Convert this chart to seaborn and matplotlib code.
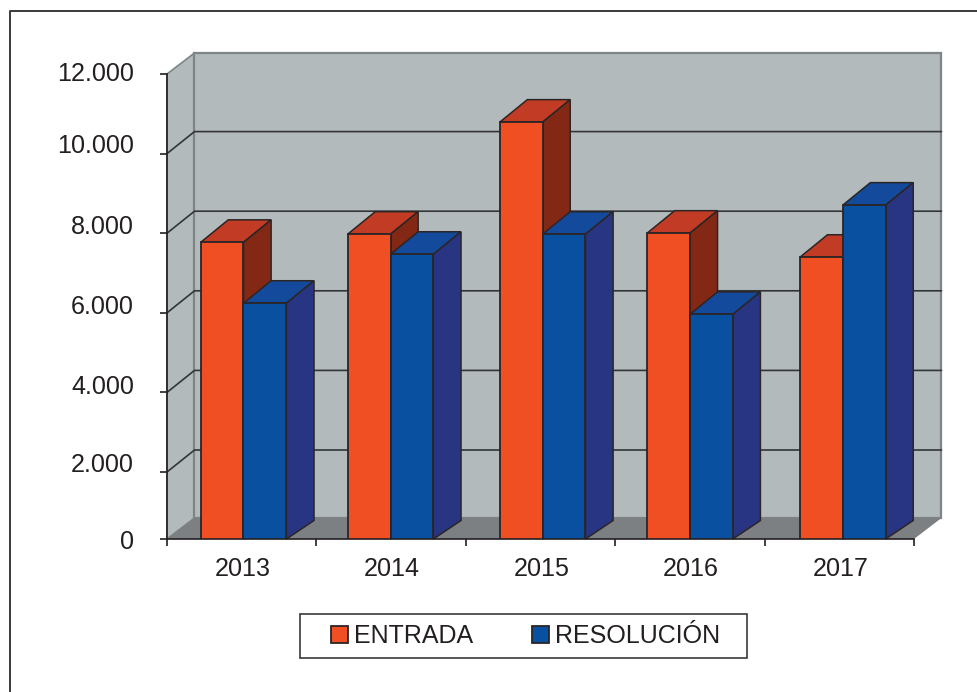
import matplotlib
matplotlib.use("Agg")
import matplotlib.pyplot as plt
from matplotlib.lines import Line2D
from matplotlib.patches import Polygon, Rectangle
import pandas as pd
import seaborn as sns

years = ["2013", "2014", "2015", "2016", "2017"]
series = ["ENTRADA", "RESOLUCIÓN"]
entrada = [7770, 7975, 10790, 8000, 7395]
resolucion = [6240, 7470, 7975, 5960, 8705]

# the printed axis is not linear at the bottom: the "0" tick sits at about 317
y_ticks = [317, 2000, 4000, 6000, 8000, 10000, 12000]
y_labels = ["0", "2.000", "4.000", "6.000", "8.000", "10.000", "12.000"]
y_label_shift = [-3, 7, 5, 6, 6, 8, 0]
bar_shift = [0.012, -0.004, 0.014, 0, 0.023]

W, H = 978, 692
INK = "#231f20"
WALL = "#b3babc"
FLOOR = "#7c8082"
WALL_EDGE = "#7f8486"
FRONT = dict(zip(series, ["#f04e23", "#0a50a1"]))
TOP = dict(zip(series, ["#c23b24", "#134a9c"]))
SIDE = dict(zip(series, ["#832815", "#283583"]))

# depth of the fake 3D box, in data units
WALL_DX, WALL_DY, GRID_DY = 0.184, 528, 553
BAR_DX, BAR_DY, BAR_BASE_DY = 0.185, 566, 465

sns.set_theme(style="white")
plt.rcParams["font.family"] = ["Liberation Sans", "DejaVu Sans"]
plt.rcParams["text.color"] = INK

df = pd.DataFrame({
    "year": years * 2,
    "serie": [series[0]] * 5 + [series[1]] * 5,
    "valor": entrada + resolucion,
})

fig = plt.figure(figsize=(W / 100, H / 100), dpi=100)
ax = fig.add_axes([167 / W, 1 - 539 / H, (914 - 167) / W, (539 - 74) / H])
sns.barplot(data=df, x="year", y="valor", hue="serie", palette=FRONT, width=0.574,
            gap=0, edgecolor="#2b2526", linewidth=1.3, saturation=1, ax=ax, legend=True, zorder=6)
ax.set_xlim(-0.5, 4.5)
ax.set_ylim(y_ticks[0], 12000)
ax.set_xlabel("")
ax.set_ylabel("")
ymin = y_ticks[0]

# walls and floor
ax.add_patch(Polygon([(-0.5, ymin), (-0.5, 12000), (-0.5 + WALL_DX, 12000 + WALL_DY), (-0.5 + WALL_DX, ymin + WALL_DY)],
                     fc=WALL, ec=WALL_EDGE, lw=1.2, clip_on=False, zorder=0.5))
ax.add_patch(Polygon([(-0.5 + WALL_DX, ymin + WALL_DY), (-0.5 + WALL_DX, 12000 + WALL_DY),
                      (4.5 + WALL_DX, 12000 + WALL_DY), (4.5 + WALL_DX, ymin + WALL_DY)],
                     fc=WALL, ec=WALL_EDGE, lw=1.6, clip_on=False, zorder=0.5))
ax.add_patch(Polygon([(-0.5, ymin), (-0.5 + WALL_DX, ymin + WALL_DY), (4.5 + WALL_DX, ymin + WALL_DY), (4.5, ymin)],
                     fc=FLOOR, ec="none", clip_on=False, zorder=0.6))

# gridlines run along the side wall and across the back wall
for t in y_ticks[1:-1]:
    ax.plot([-0.5, -0.5 + WALL_DX, 4.5 + WALL_DX], [t, t + GRID_DY, t + GRID_DY],
            color="#333537", lw=1.2, clip_on=False, zorder=1)

# bars: shift, then add top and side faces
for n, cont in enumerate(ax.containers[:2]):
    name = series[n]
    for i, bar in enumerate(cont.patches):
        bar.set_x(bar.get_x() + bar_shift[i])
        bar.set_zorder(4 + 2 * n)
        x0 = bar.get_x()
        x1 = x0 + bar.get_width()
        top = bar.get_height()
        ax.add_patch(Polygon([(x0, top), (x0 + BAR_DX, top + BAR_DY), (x1 + BAR_DX, top + BAR_DY), (x1, top)],
                             fc=TOP[name], ec="#2b2526", lw=1.1, zorder=3 + 2 * n, clip_on=False))
        ax.add_patch(Polygon([(x1, top), (x1 + BAR_DX, top + BAR_DY), (x1 + BAR_DX, ymin + BAR_BASE_DY), (x1, ymin)],
                             fc=SIDE[name], ec="#2b2526", lw=1.1, zorder=3 + 2 * n, clip_on=False))

# axes and ticks
sns.despine(ax=ax)
for side in ["left", "bottom"]:
    ax.spines[side].set_color(INK)
    ax.spines[side].set_linewidth(1.2)
    ax.spines[side].set_zorder(10)
ax.set_yticks(y_ticks)
ax.set_yticklabels([])
ax.set_xticks([-0.5, 0.5, 1.5, 2.5, 3.5, 4.5])
ax.set_xticklabels([])
ax.tick_params(axis="both", direction="out", length=5, width=1.2, color=INK, left=True, bottom=True)
for t, lab, shift in zip(y_ticks, y_labels, y_label_shift):
    ax.annotate(lab, xy=(0, t), xycoords=ax.get_yaxis_transform(), xytext=(-33, shift),
                textcoords="offset pixels", ha="right", va="center", fontsize=18.1, annotation_clip=False)
for i, y in enumerate(years):
    ax.annotate(y, xy=(i, 0), xycoords=ax.get_xaxis_transform(), xytext=(1, -30),
                textcoords="offset pixels", ha="center", va="center", fontsize=18.1, annotation_clip=False)

# legend and frames, placed in figure pixels
handles, labels = ax.get_legend_handles_labels()
ax.get_legend().remove()
fig.legend(handles, labels, loc="center left", bbox_to_anchor=(331 / W, 1 - 636 / H), ncol=2, frameon=False,
           fontsize=18, handlelength=0.68, handleheight=0.68, handletextpad=0.24, columnspacing=2.34,
           borderpad=0, borderaxespad=0)
fig.add_artist(Rectangle((299.7 / W, 1 - 658.3 / H), 447.5 / W, 44 / H, transform=fig.transFigure,
                         fc="none", ec="#3a3a3a", lw=1.2))
# outer frame: only the left and top edges are visible
fig.add_artist(Line2D([9.5 / W, 9.5 / W, 1], [0, 1 - 10.5 / H, 1 - 10.5 / H], transform=fig.transFigure,
                      color="#3a3a3a", lw=1.4))

fig.savefig("out.png", dpi=100)
plt.close(fig)
